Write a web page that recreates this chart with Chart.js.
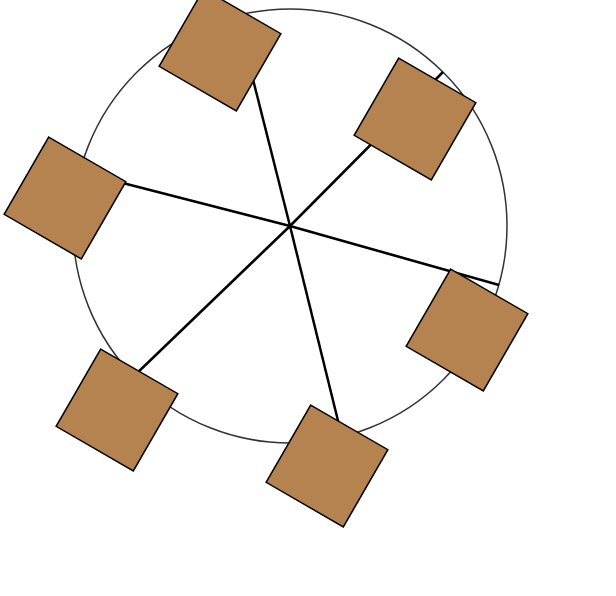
<!DOCTYPE html>
<html>
<head>
<meta charset="utf-8">
<script src="https://cdn.jsdelivr.net/npm/chart.js@4"></script>
<style>
  html, body { margin:0; padding:0; background:#fff; }
  #wrap { width:616px; height:596px; }
</style>
</head>
<body>
<div id="wrap"><canvas id="c"></canvas></div>
<script>
// hub of the wheel and its rim radius (in axis units = px)
var hub = {x: 290, y: 226};
var rimRadius = 217;
// spoke ends on the rim
var spokeX = [237, 443, 80, 499, 134, 342];
var spokeY = [16, 72, 172, 285, 376, 437];
// square cabins
var cabinX = [220, 415, 65, 467, 117, 327];
var cabinY = [50, 119, 198, 330, 410, 466];

var datasets = [];
datasets.push({
  type:'scatter', order:0, clip:false,
  data: cabinX.map(function(x,i){ return {x:x, y:cabinY[i]}; }),
  pointStyle:'rect', pointRotation:30, pointRadius:63, pointHoverRadius:63,
  backgroundColor:'#b5834f', borderColor:'#000', borderWidth:1.5
});
for (var i = 0; i < spokeX.length; i++) {
  datasets.push({
    type:'line', order:1, clip:false,
    data:[{x:hub.x, y:hub.y}, {x:spokeX[i], y:spokeY[i]}],
    borderColor:'#000', borderWidth:2.5, pointRadius:0, fill:false
  });
}
datasets.push({
  type:'scatter', order:2, clip:false,
  data:[{x:hub.x, y:hub.y}],
  pointStyle:'circle', pointRadius:rimRadius, pointHoverRadius:rimRadius,
  backgroundColor:'#fff', borderColor:'#333', borderWidth:1.5
});

new Chart(document.getElementById('c'), {
  type:'scatter',
  data:{ datasets: datasets },
  options:{
    responsive:true, maintainAspectRatio:false, animation:false,
    layout:{ padding:0, autoPadding:false },
    plugins:{ legend:{display:false}, tooltip:{enabled:false} },
    events:[],
    scales:{
      x:{ type:'linear', min:0, max:616, display:false },
      y:{ type:'linear', min:0, max:596, reverse:true, display:false }
    }
  }
});
</script>
</body>
</html>
